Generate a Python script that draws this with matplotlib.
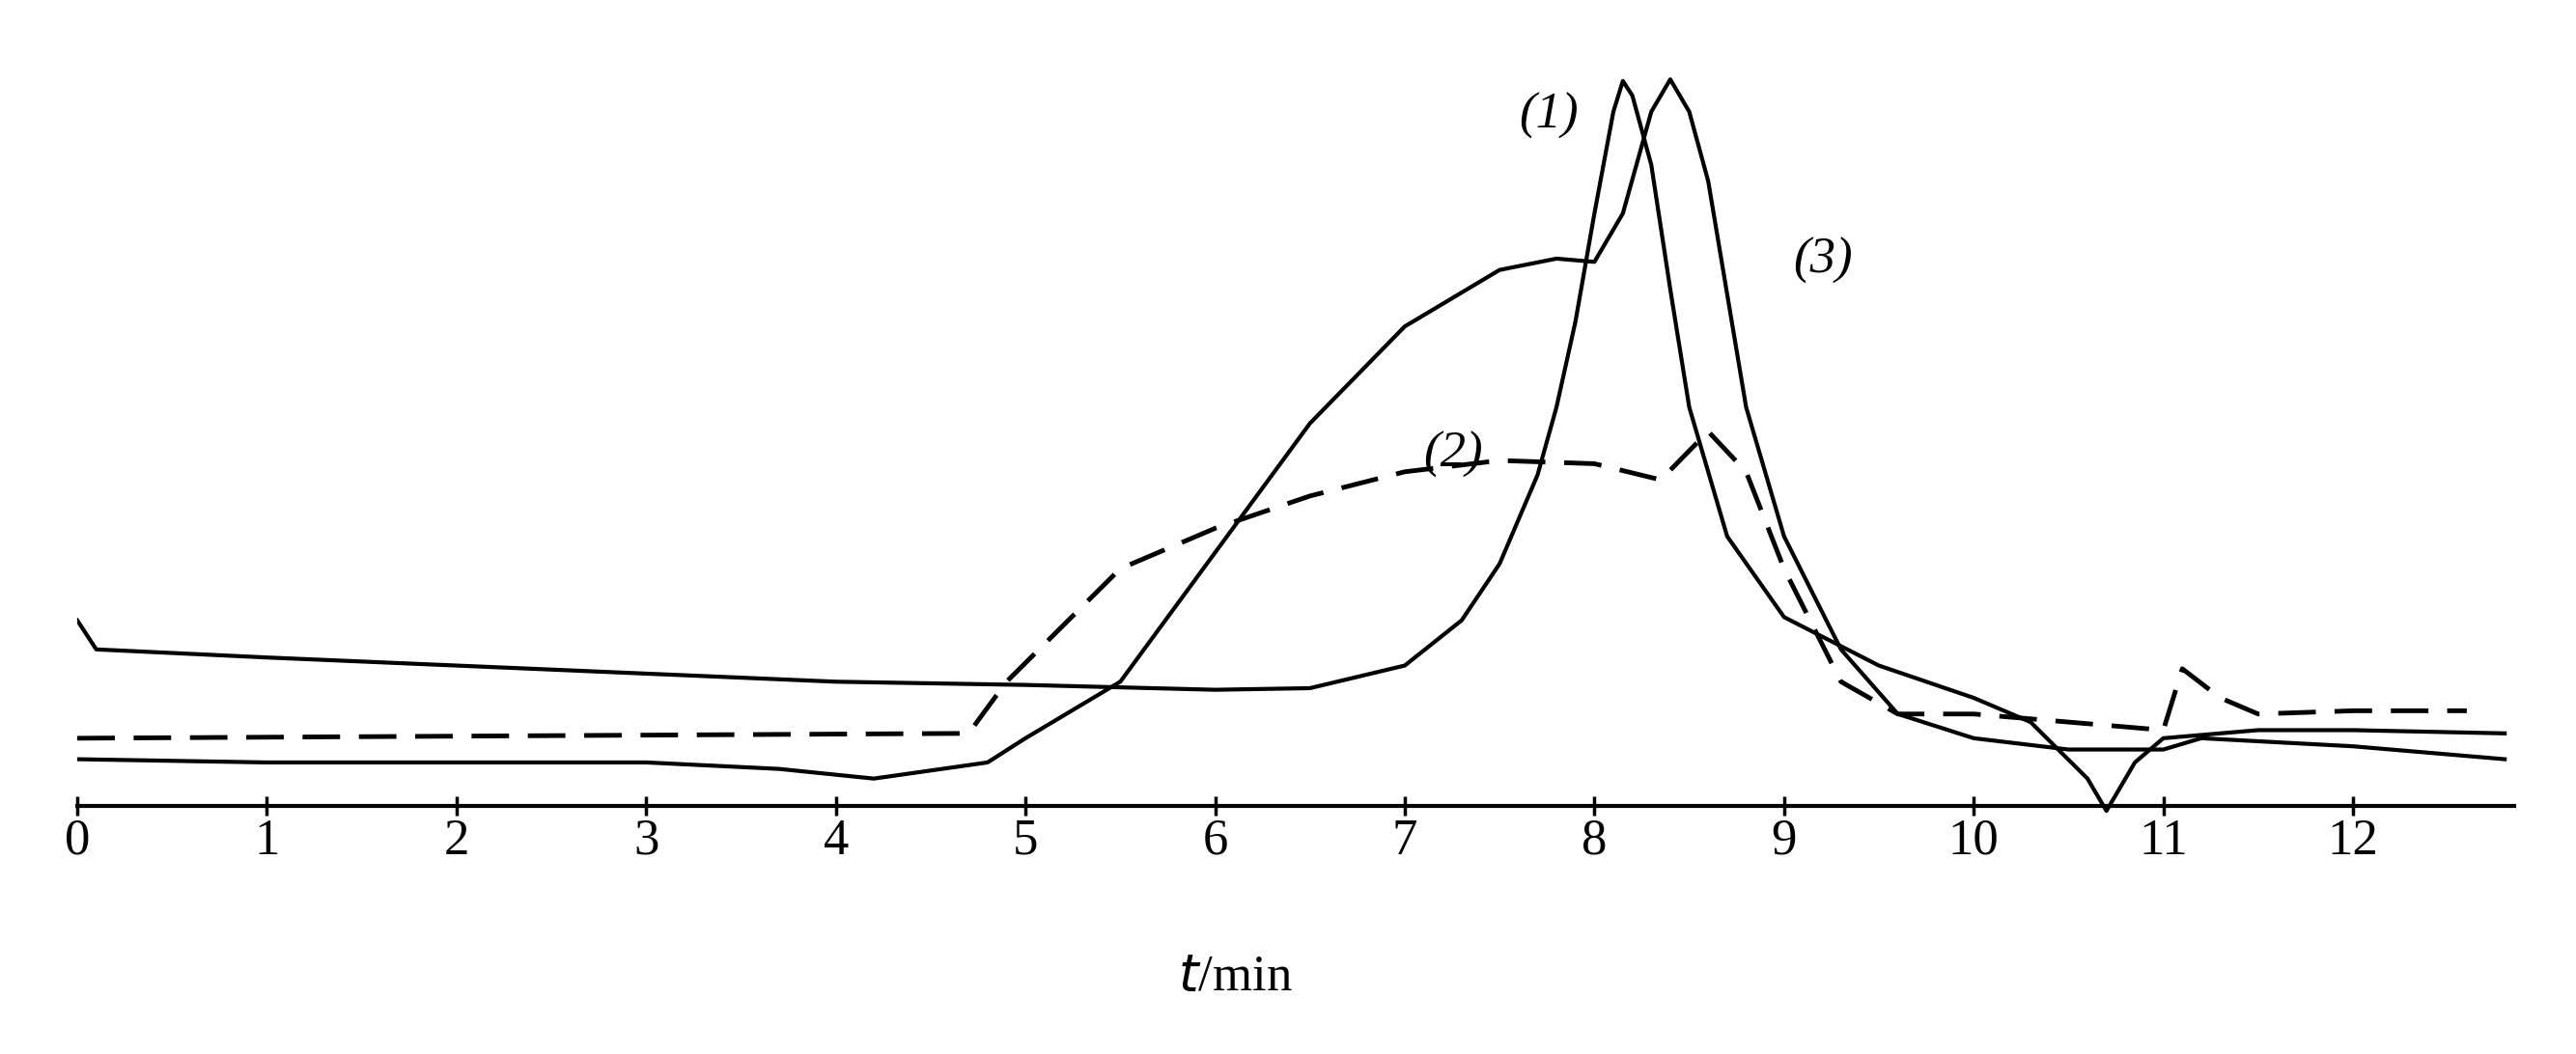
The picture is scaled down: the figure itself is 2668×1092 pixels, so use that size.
import matplotlib
matplotlib.use("Agg")
import matplotlib.pyplot as plt

t1 = [0, 0.1, 1, 2, 3, 4, 5, 6, 6.5, 7, 7.3, 7.5, 7.7, 7.8, 7.9, 8.0, 8.1, 8.15, 8.2, 8.3, 8.4, 8.5, 8.7, 9, 9.5, 10, 10.3, 10.6, 10.7, 10.85, 11, 11.5, 12, 12.8]
y1 = [115, 97, 92, 87, 82, 77, 75, 72, 73, 87, 115, 150, 205, 247, 300, 367, 430, 449, 440, 397, 320, 247, 167, 117, 87, 67, 52, 17, -3, 27, 42, 47, 47, 45]

t3 = [0, 1, 2, 3, 3.7, 4.2, 4.8, 5, 5.5, 6, 6.5, 7, 7.5, 7.8, 8.0, 8.15, 8.3, 8.4, 8.5, 8.6, 8.8, 9, 9.3, 9.6, 10, 10.5, 11, 11.2, 12, 12.8]
y3 = [29, 27, 27, 27, 23, 17, 27, 42, 77, 157, 237, 297, 332, 339, 337, 367, 430, 450, 430, 387, 247, 167, 97, 57, 42, 35, 35, 42, 37, 29]

t2 = [0, 4.7, 4.9, 5.5, 6, 6.5, 7, 7.5, 8, 8.35, 8.6, 8.8, 9, 9.3, 9.6, 10, 10.5, 11, 11.1, 11.3, 11.5, 12, 12.6]
y2 = [42, 45, 77, 147, 172, 192, 207, 214, 212, 202, 232, 207, 147, 77, 57, 57, 52, 47, 85, 67, 57, 59, 59]

xticks = list(range(13))
font = "Liberation Serif"

fig = plt.figure(figsize=(26.68, 10.92), dpi=100)
ax = fig.add_axes([0.03, 0.223, 0.946, 0.717])
ax.plot(t1, y1, color="black", lw=3)
ax.plot(t3, y3, color="black", lw=3)
ax.plot(t2, y2, color="black", lw=3.5, ls=(0, (8, 4)))
ax.set_xlim(0, 12.85)
ax.set_ylim(-8, 460)
for s in ["top", "right", "left"]:
    ax.spines[s].set_visible(False)
ax.spines["bottom"].set_position(("data", 0))
ax.spines["bottom"].set_linewidth(3)
ax.set_yticks([])
ax.set_xticks(xticks)
ax.set_xticklabels([str(v) for v in xticks], fontsize=38, fontfamily=font)
ax.tick_params(axis="x", direction="inout", length=14, width=2.5, pad=2)
ax.set_xlabel("$t$/min", fontsize=38, fontfamily=font, labelpad=0)
ax.xaxis.set_label_coords(0.475, -0.18)
for txt, x, y in [("(1)", 7.6, 420), ("(3)", 9.05, 330), ("(2)", 7.1, 210)]:
    ax.text(x, y, txt, fontsize=38, fontfamily=font, fontstyle="italic")
fig.savefig("out.png", dpi=100, facecolor="white")
